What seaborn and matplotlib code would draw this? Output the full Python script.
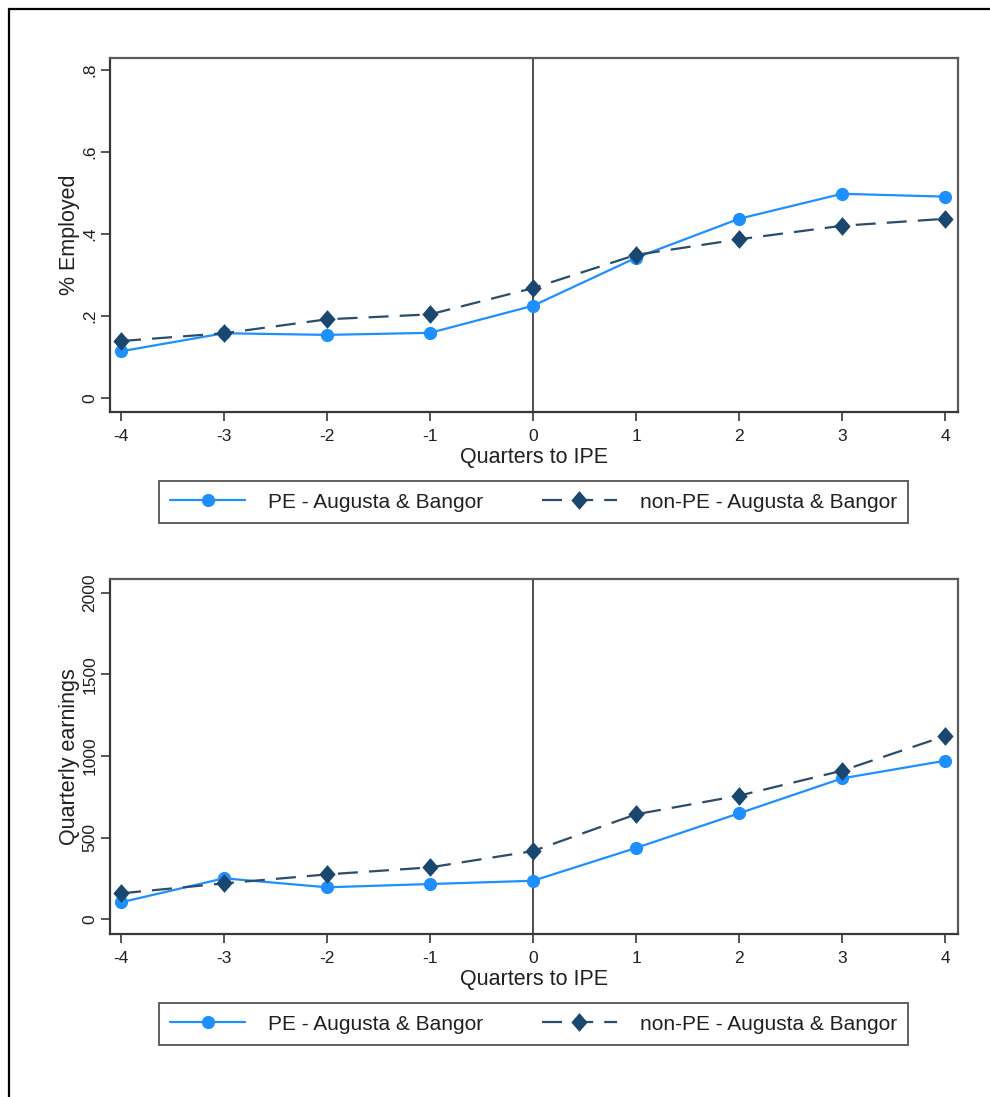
import matplotlib
matplotlib.use("Agg")
import matplotlib.pyplot as plt
from matplotlib.lines import Line2D
from matplotlib.path import Path
import numpy as np
import pandas as pd
import seaborn as sns

# Quarters relative to IPE
quarters = [-4, -3, -2, -1, 0, 1, 2, 3, 4]

# Share employed
employed_pe = [0.114, 0.158, 0.154, 0.159, 0.225, 0.342, 0.437, 0.498, 0.491]
employed_nonpe = [0.139, 0.158, 0.192, 0.204, 0.268, 0.349, 0.387, 0.420, 0.437]

# Quarterly earnings
earnings_pe = [104, 251, 196, 216, 236, 437, 649, 863, 971]
earnings_nonpe = [159, 220, 275, 318, 418, 643, 757, 910, 1122]

series_labels = ["PE - Augusta & Bangor", "non-PE - Augusta & Bangor"]
employed_ticks = [0, 0.2, 0.4, 0.6, 0.8]
employed_ticklabels = ["0", ".2", ".4", ".6", ".8"]
earnings_ticks = [0, 500, 1000, 1500, 2000]
earnings_ticklabels = ["0", "500", "1000", "1500", "2000"]

sns.set_style("ticks")
plt.rcParams["font.family"] = ["Liberation Sans", "DejaVu Sans"]

PE_COLOR = "#1e8fff"
NONPE_COLOR = "#1a476f"
FRAME = "#383838"
TEXT = "#202020"

# Slightly tall diamond marker
DIAMOND = Path([(0, 1), (0.87, 0), (0, -1), (-0.87, 0), (0, 1)],
               [Path.MOVETO, Path.LINETO, Path.LINETO, Path.LINETO, Path.CLOSEPOLY])

fig = plt.figure(figsize=(9.9, 10.97), dpi=100)
W, H = 990, 1097


def px_axes(x0, y0, x1, y1):
    return fig.add_axes([x0 / W, 1 - y1 / H, (x1 - x0) / W, (y1 - y0) / H])


def draw_panel(ax, pe, nonpe, ylabel, yticks, yticklabels, ylim):
    df = pd.DataFrame({"q": quarters, "pe": pe, "nonpe": nonpe})
    ax.axvline(0, color="#303030", lw=1.2, zorder=1)
    sns.lineplot(data=df, x="q", y="pe", ax=ax, color=PE_COLOR, lw=1.6,
                 marker="o", markersize=9.5, markeredgewidth=0,
                 label=series_labels[0], zorder=3)
    sns.lineplot(data=df, x="q", y="nonpe", ax=ax, color=NONPE_COLOR, lw=1.6,
                 marker=DIAMOND, markersize=13.5, markeredgewidth=0,
                 dashes=False, label=series_labels[1], zorder=4)
    ax.lines[-1].set_dashes((9, 5))
    ax.lines[-1].set_color("#2b4d6b")
    ax.lines[-1].set_markerfacecolor(NONPE_COLOR)
    ax.set_xlim(-4.107, 4.126)
    ax.set_ylim(*ylim)
    ax.set_xticks(quarters)
    ax.set_xticklabels([str(q) for q in quarters])
    ax.set_yticks(yticks)
    ax.set_yticklabels(yticklabels, rotation=90, va="center")
    ax.tick_params(axis="both", labelsize=12.5, length=6.5, width=1.2,
                   color=FRAME, labelcolor=TEXT, top=False, right=False)
    ax.tick_params(axis="x", pad=5.5)
    ax.tick_params(axis="y", pad=2.5)
    for name, s in ax.spines.items():
        s.set_visible(True)
        s.set_linewidth(1.6)
        s.set_color(FRAME if name in ("left", "bottom") else "#5a5a5a")
    ax.set_xlabel("Quarters to IPE", fontsize=15.5, color=TEXT, labelpad=2.5)
    ax.set_ylabel(ylabel, fontsize=15.5, color=TEXT, labelpad=2)
    handles, labels = ax.get_legend_handles_labels()
    ax.get_legend().remove()
    return handles, labels


ax1 = px_axes(110, 58, 958, 412)
h1, l1 = draw_panel(ax1, employed_pe, employed_nonpe, "% Employed",
                    employed_ticks, employed_ticklabels, (-0.034, 0.829))
ax2 = px_axes(110, 579, 958, 934)
h2, l2 = draw_panel(ax2, earnings_pe, earnings_nonpe, "Quarterly earnings",
                    earnings_ticks, earnings_ticklabels, (-90, 2084))

for handles, labels, (top, bot) in [(h1, l1, (481, 523)), (h2, l2, (1003, 1045))]:
    leg = fig.legend(handles, labels, loc="center", ncol=2,
                     bbox_to_anchor=(533.5 / W, 1 - (top + bot) / 2 / H),
                     fontsize=15, frameon=True, fancybox=False, shadow=False,
                     handlelength=3.6, handletextpad=1.1, columnspacing=2.8,
                     borderpad=0.55, borderaxespad=0)
    fr = leg.get_frame()
    fr.set_edgecolor(FRAME)
    fr.set_linewidth(1.4)
    for t in leg.get_texts():
        t.set_color(TEXT)

# Outer border along the left and top edges
fig.add_artist(Line2D([8.5 / W, 8.5 / W], [0, 1 - 8.5 / H], transform=fig.transFigure,
                      color="black", lw=1.6))
fig.add_artist(Line2D([8.5 / W, 1], [1 - 8.5 / H, 1 - 8.5 / H], transform=fig.transFigure,
                      color="black", lw=1.6))

fig.savefig("out.png", dpi=100, facecolor="white")
